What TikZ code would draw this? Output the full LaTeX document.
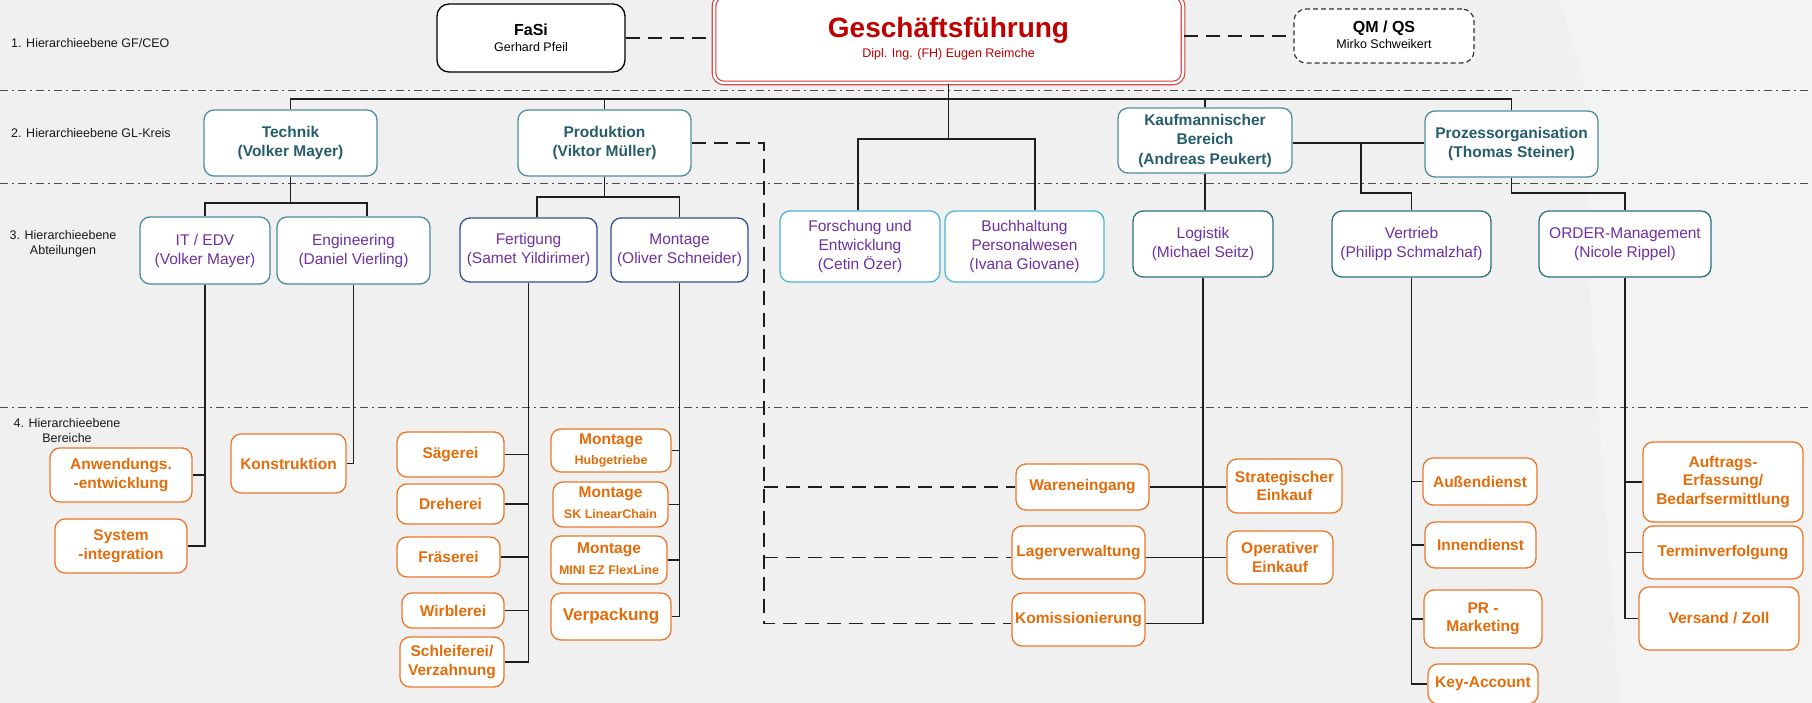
\documentclass[tikz,border=0pt]{standalone}
\usepackage{fontspec}
\setmainfont{Liberation Sans}
\definecolor{bg}{RGB}{240,240,240}
\definecolor{gfred}{RGB}{192,0,0}
\definecolor{gfborder}{RGB}{210,60,60}
\definecolor{ltwob}{RGB}{80,140,160}
\definecolor{ltwot}{RGB}{38,92,108}
\definecolor{purp}{RGB}{112,48,160}
\definecolor{bteal}{RGB}{74,140,155}
\definecolor{bnavy}{RGB}{50,80,140}
\definecolor{bcyan}{RGB}{75,180,210}
\definecolor{bdteal}{RGB}{45,110,130}
\definecolor{ort}{RGB}{228,108,10}
\definecolor{orb}{RGB}{232,120,40}
\definecolor{lnc}{RGB}{30,30,30}
\tikzset{
  conn/.style={draw=lnc, line width=1.2pt},
  dconn/.style={draw=lnc, line width=1.4pt, dash pattern=on 14pt off 8pt},
  sepline/.style={draw=black!70, line width=1pt, dash pattern=on 8pt off 4pt on 2pt off 4pt},
  box/.style={rectangle, rounded corners=10pt, fill=white, line width=1.3pt, inner sep=0pt, align=center},
  ltwo/.style={box, draw=ltwob, text=ltwot, font=\fontsize{15.5}{19.5}\selectfont\bfseries},
  lthree/.style={box, text=purp, font=\fontsize{15.5}{19}\selectfont},
  lfour/.style={box, draw=orb, text=ort, font=\fontsize{15.5}{18.5}\selectfont\bfseries},
  lab/.style={font=\fontsize{12.5}{15}\selectfont, text=black!90, inner sep=0pt, align=center},
  txt/.style={inner sep=0pt, align=center},
}
\begin{document}
\begin{tikzpicture}[x=1pt,y=-1pt]
\useasboundingbox (0,0) rectangle (1812,703);
\fill[bg] (0,0) rectangle (1812,703);
\fill[white,opacity=0.25] (1560,0) -- (1812,0) -- (1812,703) -- (1620,703) -- (1590,300) -- (1585,80) -- cycle;

% separators
\draw[sepline] (0,90.5) -- (1812,90.5);
\draw[sepline] (0,184) -- (1812,184);
\draw[sepline] (0,407) -- (1812,407);

% left labels
\node[lab, anchor=west] (lab1) at (11,43) {1. Hierarchieebene GF/CEO};
\node[lab, anchor=west] (lab2) at (11,133) {2. Hierarchieebene GL-Kreis};
\node[lab] (lab3) at (63,243.5) {3. Hierarchieebene\\Abteilungen};
\node[lab] (lab4) at (67,430.5) {4. Hierarchieebene\\Bereiche};

% level 1
\node[box, draw=black, rounded corners=12pt, minimum width=188pt, minimum height=68pt] (fasi) at (531,38) {};
\node[txt, font=\fontsize{16}{19}\selectfont\bfseries] (fasit) at (531,29.5) {FaSi};
\node[txt, font=\fontsize{12.5}{15}\selectfont] (fasin) at (531,47) {Gerhard Pfeil};

\node[box, draw=gfborder, line width=1.1pt, double=white, double distance=2.5pt, rounded corners=10pt, minimum width=469pt, minimum height=87pt] (gf) at (948.5,39.5) {};
\node[txt, text=gfred, font=\fontsize{28}{32}\selectfont\bfseries] (gft) at (948.5,30) {Geschäftsführung};
\node[txt, text=gfred, font=\fontsize{12.5}{15}\selectfont] (gfn) at (948.5,54) {Dipl. Ing. (FH) Eugen Reimche};

\node[box, draw=black!80, line width=1.2pt, dash pattern=on 5pt off 3pt, rounded corners=12pt, minimum width=180pt, minimum height=54pt] (qm) at (1384,36) {};
\node[txt, font=\fontsize{16}{19}\selectfont\bfseries] (qmt) at (1384,28) {QM / QS};
\node[txt, font=\fontsize{12.5}{15}\selectfont] (qmn) at (1384,44.5) {Mirko Schweikert};

% level 2
\node[ltwo, minimum width=173pt, minimum height=66pt] (tech) at (290.5,143) {Technik\\(Volker Mayer)};
\node[ltwo, minimum width=173pt, minimum height=66pt] (prod) at (604.5,143) {Produktion\\(Viktor Müller)};
\node[ltwo, minimum width=174pt, minimum height=65pt] (kauf) at (1205,140.5) {Kaufmannischer\\Bereich\\(Andreas Peukert)};
\node[ltwo, minimum width=173pt, minimum height=66pt] (proz) at (1511.5,144) {Prozessorganisation\\(Thomas Steiner)};

% level 3
\node[lthree, draw=bteal, minimum width=130pt, minimum height=67pt] (it) at (205,250.5) {IT / EDV\\(Volker Mayer)};
\node[lthree, draw=bteal, minimum width=153pt, minimum height=67pt] (eng) at (353.5,250.5) {Engineering\\(Daniel Vierling)};
\node[lthree, draw=bnavy, minimum width=137pt, minimum height=64pt] (fert) at (528.5,250) {Fertigung\\(Samet Yildirimer)};
\node[lthree, draw=bnavy, minimum width=137pt, minimum height=64pt] (mont) at (679.5,250) {Montage\\(Oliver Schneider)};
\node[lthree, draw=bcyan, minimum width=160pt, minimum height=71pt] (fue) at (860,246.5) {Forschung und\\Entwicklung\\(Cetin Özer)};
\node[lthree, draw=bcyan, minimum width=159pt, minimum height=71pt] (buch) at (1024.5,246.5) {Buchhaltung\\Personalwesen\\(Ivana Giovane)};
\node[lthree, draw=bdteal, minimum width=140pt, minimum height=66pt] (logi) at (1203,244) {Logistik\\(Michael Seitz)};
\node[lthree, draw=bdteal, minimum width=159pt, minimum height=66pt] (vert) at (1411.5,244) {Vertrieb\\(Philipp Schmalzhaf)};
\node[lthree, draw=bdteal, minimum width=172pt, minimum height=66pt] (order) at (1625,244) {ORDER-Management\\(Nicole Rippel)};

% level 4
\node[lfour, minimum width=142pt, minimum height=54pt] (anw) at (121,475) {Anwendungs.\\-entwicklung};
\node[lfour, minimum width=132pt, minimum height=54pt] (sys) at (121,546) {System\\-integration};
\node[lfour, minimum width=115pt, minimum height=59pt] (kons) at (288.5,463.5) {Konstruktion};
\node[lfour, minimum width=107pt, minimum height=45pt] (saeg) at (450.5,454.5) {Sägerei};
\node[lfour, minimum width=107pt, minimum height=40pt] (dreh) at (450.5,504) {Dreherei};
\node[lfour, minimum width=103pt, minimum height=40pt] (fraes) at (448.5,557) {Fräserei};
\node[lfour, minimum width=102pt, minimum height=35pt] (wirb) at (453,610.5) {Wirblerei};
\node[lfour, minimum width=104pt, minimum height=50pt] (schl) at (452,662) {Schleiferei/\\Verzahnung};

\node[lfour, minimum width=120pt, minimum height=43pt] (mone) at (611,450.5) {};
\node[txt, text=ort, font=\fontsize{15.5}{18}\selectfont\bfseries] (monea) at (611,441) {Montage};
\node[txt, text=ort, font=\fontsize{12.5}{15}\selectfont\bfseries] (moneb) at (611,461) {Hubgetriebe};
\node[lfour, minimum width=115pt, minimum height=45pt] (mtwo) at (610.5,504.5) {};
\node[txt, text=ort, font=\fontsize{15.5}{18}\selectfont\bfseries] (mtwoa) at (610.5,494) {Montage};
\node[txt, text=ort, font=\fontsize{12.5}{15}\selectfont\bfseries] (mtwob) at (610.5,514) {SK LinearChain};
\node[lfour, minimum width=116pt, minimum height=48pt] (mthree) at (609,560) {};
\node[txt, text=ort, font=\fontsize{15.5}{18}\selectfont\bfseries] (mthreea) at (609,550) {Montage};
\node[txt, text=ort, font=\fontsize{12.5}{15}\selectfont\bfseries] (mthreeb) at (609,570) {MINI EZ FlexLine};
\node[lfour, font=\fontsize{17}{20}\selectfont\bfseries, minimum width=120pt, minimum height=47pt] (verp) at (611,616.5) {Verpackung};

\node[lfour, minimum width=133pt, minimum height=46pt] (ware) at (1082.5,487) {Wareneingang};
\node[lfour, minimum width=133pt, minimum height=53pt] (lager) at (1078.5,552.5) {Lagerverwaltung};
\node[lfour, minimum width=133pt, minimum height=53pt] (komm) at (1078.5,619.5) {Komissionierung};
\node[lfour, minimum width=115pt, minimum height=54pt] (strat) at (1284.5,486) {Strategischer\\Einkauf};
\node[lfour, minimum width=106pt, minimum height=53pt] (oper) at (1280,557.5) {Operativer\\Einkauf};

\node[lfour, minimum width=114pt, minimum height=47pt] (aussen) at (1480,481.5) {Außendienst};
\node[lfour, minimum width=111pt, minimum height=46pt] (innen) at (1480.5,545) {Innendienst};
\node[lfour, minimum width=118pt, minimum height=58pt] (pr) at (1483,619) {PR -\\Marketing};
\node[lfour, minimum width=110pt, minimum height=40pt] (key) at (1483,684) {Key-Account};

\node[lfour, minimum width=160pt, minimum height=80pt] (auftr) at (1723,482) {Auftrags-\\Erfassung/\\Bedarfsermittlung};
\node[lfour, minimum width=160pt, minimum height=53pt] (termin) at (1723,552.5) {Terminverfolgung};
\node[lfour, minimum width=160pt, minimum height=63pt] (versand) at (1719,618.5) {Versand / Zoll};

% coordinates
\coordinate (bus) at (948.5,99);
\coordinate (fb) at (948.5,139);
\coordinate (tb) at (290.5,203);
\coordinate (pb) at (604.5,197);
\coordinate (kp) at (1361,143);
\coordinate (lv) at (0,193);
\coordinate (pd) at (764,143);

% level 1 connectors
\draw[dconn] (fasi.east) -- (fasi.east -| gf.west);
\draw[dconn] (qm.west -| gf.east) -- (qm.west);
\draw[conn] (gf.south) -- (fb);
\draw[conn] (tech.north) -- (tech.north |- bus) -- (proz.north |- bus) -- (proz.north);
\draw[conn] (prod.north) -- (prod.north |- bus);
\draw[conn] (kauf.north) -- (kauf.north |- bus);
\draw[conn] ([xshift=-2pt]fue.north) |- ([xshift=10.5pt]buch.north |- fb) -- ([xshift=10.5pt]buch.north);

% level 2 connectors
\draw[conn] (tech.south) -- (tb);
\draw[conn] (it.north) |- ([xshift=13.5pt]eng.north |- tb) -- ([xshift=13.5pt]eng.north);
\draw[conn] (prod.south) -- (pb);
\draw[conn] ([xshift=8.5pt]fert.north) |- (mont.north |- pb) -- (mont.north);
\draw[conn] (kauf.south) -- (kauf.south |- logi.north);
\draw[conn] (kp -| kauf.east) -- (kp -| proz.west);
\draw[conn] (kp) -- (kp |- lv) -| (vert.north);
\draw[conn] (proz.south) -- (proz.south |- lv) -| (order.north);

% level 3 to level 4
\draw[conn] (it.south) |- (sys.east);
\draw[conn] (anw.east) -- (anw.east -| it.south);
\draw[conn] (eng.south) |- (kons.east);
\draw[conn] (fert.south) |- (schl.east);
\draw[conn] (saeg.east) -- (saeg.east -| fert.south);
\draw[conn] (dreh.east) -- (dreh.east -| fert.south);
\draw[conn] (fraes.east) -- (fraes.east -| fert.south);
\draw[conn] (wirb.east) -- (wirb.east -| fert.south);
\draw[conn] (mont.south) |- (verp.east);
\draw[conn] (mone.east) -- (mone.east -| mont.south);
\draw[conn] (mtwo.east) -- (mtwo.east -| mont.south);
\draw[conn] (mthree.east) -- (mthree.east -| mont.south);
\draw[conn] (logi.south) |- ([yshift=-4pt]komm.east);
\draw[conn] (ware.east) -- (ware.east -| strat.west);
\draw[conn] (oper.west -| lager.east) -- (oper.west);
\draw[conn] (vert.south) |- (key.west);
\draw[conn] (aussen.west) -- (aussen.west -| vert.south);
\draw[conn] (innen.west) -- (innen.west -| vert.south);
\draw[conn] (pr.west) -- (pr.west -| vert.south);
\draw[conn] (order.south) |- (versand.west);
\draw[conn] (auftr.west) -- (auftr.west -| order.south);
\draw[conn] (termin.west) -- (termin.west -| order.south);

% dashed Produktion links
\draw[dconn] (prod.east) -- (pd) |- ([yshift=-4pt]komm.west);
\draw[dconn] (pd |- ware.west) -- (ware.west);
\draw[dconn] (pd |- oper.west) -- (oper.west -| lager.west);
\end{tikzpicture}
\end{document}
